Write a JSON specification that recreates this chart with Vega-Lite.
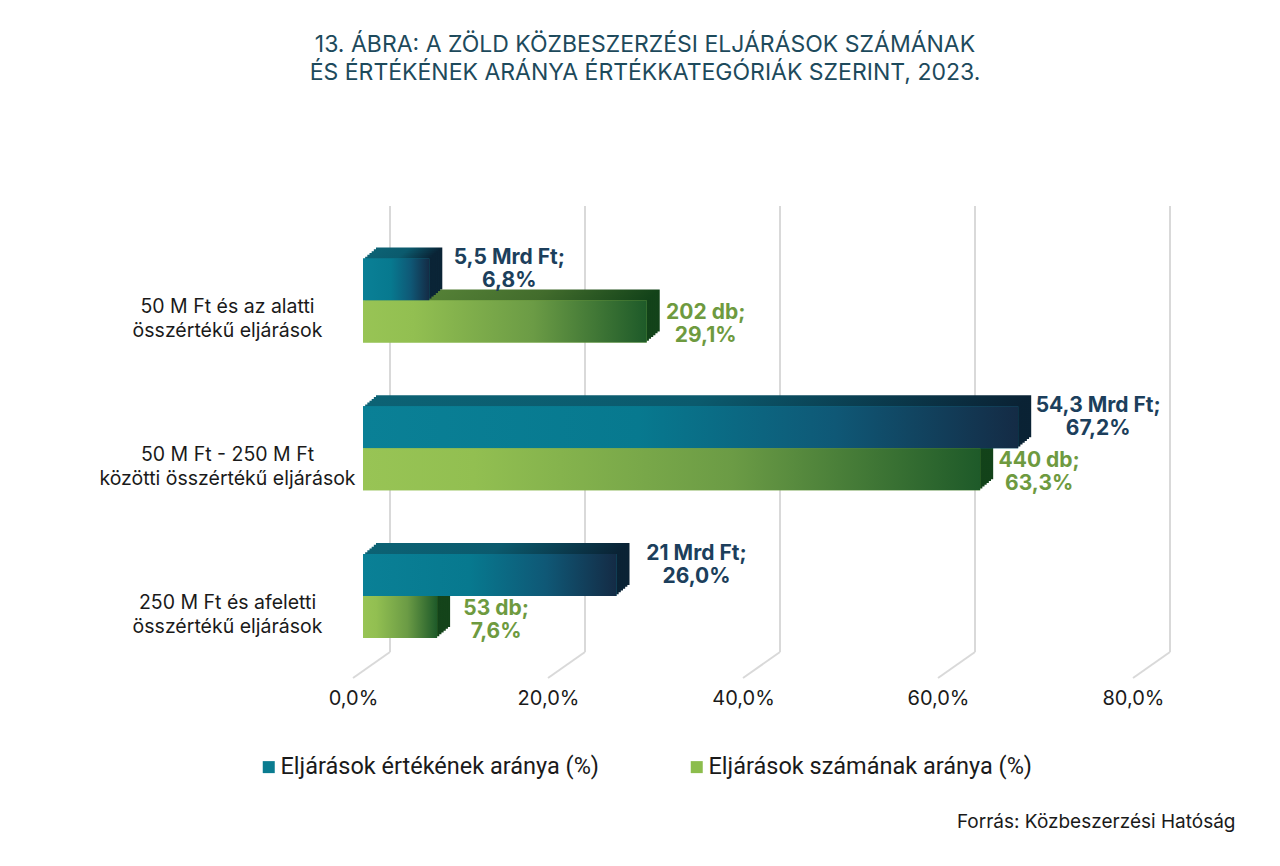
{
  "$schema": "https://vega.github.io/schema/vega-lite/v6.json",
  "width": 780,
  "height": 472,
  "autosize": {"type": "none"},
  "padding": {"left": 363, "top": 206, "right": 137, "bottom": 188},
  "background": "white",
  "title": {
    "text": ["13. ÁBRA: A ZÖLD KÖZBESZERZÉSI ELJÁRÁSOK SZÁMÁNAK", "ÉS ÉRTÉKÉNEK ARÁNYA ÉRTÉKKATEGÓRIÁK SZERINT, 2023."],
    "anchor": "middle",
    "frame": "group",
    "dx": -108,
    "offset": 120,
    "font": "Inter",
    "fontSize": 23,
    "fontWeight": "normal",
    "lineHeight": 28,
    "color": "#1d4a5c"
  },
  "datasets": {
    "savok": [
      {"kategoria": "50 M Ft  és az alatti|összértékű  eljárások", "sorozat": "Eljárások értékének aránya (%)", "arany": 6.8, "cimke": "5,5 Mrd Ft;|6,8%"},
      {"kategoria": "50 M Ft  és az alatti|összértékű  eljárások", "sorozat": "Eljárások számának aránya (%)", "arany": 29.1, "cimke": "202 db;|29,1%"},
      {"kategoria": "50 M Ft - 250 M Ft|közötti összértékű eljárások", "sorozat": "Eljárások értékének aránya (%)", "arany": 67.2, "cimke": "54,3 Mrd Ft;|67,2%"},
      {"kategoria": "50 M Ft - 250 M Ft|közötti összértékű eljárások", "sorozat": "Eljárások számának aránya (%)", "arany": 63.3, "cimke": "440 db;|63,3%"},
      {"kategoria": "250 M Ft  és afeletti|összértékű eljárások", "sorozat": "Eljárások értékének aránya (%)", "arany": 26.0, "cimke": "21 Mrd Ft;|26,0%"},
      {"kategoria": "250 M Ft  és afeletti|összértékű eljárások", "sorozat": "Eljárások számának aránya (%)", "arany": 7.6, "cimke": "53 db;|7,6%"}
    ],
    "racs": [{"t": 0}, {"t": 20}, {"t": 40}, {"t": 60}, {"t": 80}]
  },
  "layer": [
    {
      "data": {"name": "racs"},
      "mark": {"type": "rule", "color": "#d9d9d9", "strokeWidth": 2, "xOffset": 27, "x2Offset": 27, "y2Offset": -26},
      "encoding": {
        "x": {
          "field": "t", "type": "quantitative", "scale": {"domain": [0, 80], "nice": false},
          "axis": {"values": [0, 20, 40, 60, 80], "domain": false, "ticks": false, "tickSize": 0, "grid": false, "labelExpr": "replace(format(datum.value, '.1f'), '.', ',') + '%'", "labelFlush": false, "labelOverlap": false, "labelOffset": -10, "labelPadding": 10, "labelFont": "Inter", "labelFontSize": 20, "labelColor": "#1a1a1a", "title": "Forrás: Közbeszerzési Hatóság", "titleX": 872, "titleY": 149, "titleAlign": "right", "titleBaseline": "alphabetic", "titleFont": "Inter", "titleFontSize": 19, "titleFontWeight": "normal", "titleColor": "#1a1a1a"}
        },
        "y": {"value": 0},
        "y2": {"value": "height"}
      }
    },
    {
      "data": {"name": "racs"},
      "mark": {"type": "rule", "color": "#d9d9d9", "strokeWidth": 2, "xOffset": -10, "x2Offset": 27, "y2Offset": -26},
      "encoding": {
        "x": {
          "field": "t", "type": "quantitative",
          "axis": {"values": [0, 20, 40, 60, 80], "domain": false, "ticks": false, "tickSize": 0, "grid": false, "labelExpr": "replace(format(datum.value, '.1f'), '.', ',') + '%'", "labelFlush": false, "labelOverlap": false, "labelOffset": -10, "labelPadding": 10, "labelFont": "Inter", "labelFontSize": 20, "labelColor": "#1a1a1a", "title": "Forrás: Közbeszerzési Hatóság", "titleX": 872, "titleY": 149, "titleAlign": "right", "titleBaseline": "alphabetic", "titleFont": "Inter", "titleFontSize": 19, "titleFontWeight": "normal", "titleColor": "#1a1a1a"}
        },
        "x2": {"field": "t"},
        "y": {"value": "height"},
        "y2": {"value": "height"}
      }
    },
    {
      "data": {"name": "savok"},
      "resolve": {"scale": {"y": "independent", "yOffset": "independent"}},
      "encoding": {
        "x": {
          "field": "arany", "type": "quantitative", "scale": {"domain": [0, 80], "nice": false},
          "axis": {"values": [0, 20, 40, 60, 80], "domain": false, "ticks": false, "tickSize": 0, "grid": false, "labelExpr": "replace(format(datum.value, '.1f'), '.', ',') + '%'", "labelFlush": false, "labelOverlap": false, "labelOffset": -10, "labelPadding": 10, "labelFont": "Inter", "labelFontSize": 20, "labelColor": "#1a1a1a", "title": "Forrás: Közbeszerzési Hatóság", "titleX": 872, "titleY": 149, "titleAlign": "right", "titleBaseline": "alphabetic", "titleFont": "Inter", "titleFontSize": 19, "titleFontWeight": "normal", "titleColor": "#1a1a1a"}
        },
        "y": {
          "field": "kategoria", "type": "nominal",
          "scale": {"domain": ["50 M Ft  és az alatti|összértékű  eljárások", "50 M Ft - 250 M Ft|közötti összértékű eljárások", "250 M Ft  és afeletti|összértékű eljárások"], "paddingInner": 0.4315, "paddingOuter": 0.313, "align": 0.5676},
          "axis": null
        },
        "yOffset": {
          "field": "sorozat", "type": "nominal",
          "scale": {"domain": ["Eljárások értékének aránya (%)", "Eljárások számának aránya (%)"], "paddingInner": 0, "paddingOuter": 0}
        }
      },
      "layer": [
        {"transform": [{"filter": {"field": "sorozat", "equal": "Eljárások értékének aránya (%)"}}], "mark": {"type": "bar", "xOffset": 13, "x2Offset": 13, "fill": {"gradient": "linear", "x1": 0, "y1": 0, "x2": 1, "y2": 0, "stops": [{"offset": 0, "color": "#0c6274"}, {"offset": 0.5, "color": "#0b5a6d"}, {"offset": 1, "color": "#0a2234"}]}},
         "encoding": {"y": {"field": "kategoria", "type": "nominal", "scale": {"domain": ["50 M Ft  és az alatti|összértékű  eljárások", "50 M Ft - 250 M Ft|közötti összértékű eljárások", "250 M Ft  és afeletti|összértékű eljárások"], "paddingInner": 0.4315, "paddingOuter": 0.313, "align": 0.5676, "range": [-11, 461]}, "axis": null}}},
        {"transform": [{"filter": {"field": "sorozat", "equal": "Eljárások számának aránya (%)"}}], "mark": {"type": "bar", "xOffset": 13, "x2Offset": 13, "fill": {"gradient": "linear", "x1": 0, "y1": 0, "x2": 1, "y2": 0, "stops": [{"offset": 0, "color": "#5f8c3c"}, {"offset": 0.6, "color": "#426c2c"}, {"offset": 1, "color": "#124219"}]}},
         "encoding": {"y": {"field": "kategoria", "type": "nominal", "scale": {"domain": ["50 M Ft  és az alatti|összértékű  eljárások", "50 M Ft - 250 M Ft|közötti összértékű eljárások", "250 M Ft  és afeletti|összértékű eljárások"], "paddingInner": 0.4315, "paddingOuter": 0.313, "align": 0.5676, "range": [-11, 461]}, "axis": null}}},
        {"transform": [{"filter": {"field": "sorozat", "equal": "Eljárások értékének aránya (%)"}}], "mark": {"type": "bar", "xOffset": 10.83, "x2Offset": 10.83, "fill": {"gradient": "linear", "x1": 0, "y1": 0, "x2": 1, "y2": 0, "stops": [{"offset": 0, "color": "#0c6274"}, {"offset": 0.5, "color": "#0b5a6d"}, {"offset": 1, "color": "#0a2234"}]}},
         "encoding": {"y": {"field": "kategoria", "type": "nominal", "scale": {"domain": ["50 M Ft  és az alatti|összértékű  eljárások", "50 M Ft - 250 M Ft|közötti összértékű eljárások", "250 M Ft  és afeletti|összértékű eljárások"], "paddingInner": 0.4315, "paddingOuter": 0.313, "align": 0.5676, "range": [-9.17, 462.83]}, "axis": null}}},
        {"transform": [{"filter": {"field": "sorozat", "equal": "Eljárások számának aránya (%)"}}], "mark": {"type": "bar", "xOffset": 10.83, "x2Offset": 10.83, "fill": {"gradient": "linear", "x1": 0, "y1": 0, "x2": 1, "y2": 0, "stops": [{"offset": 0, "color": "#5f8c3c"}, {"offset": 0.6, "color": "#426c2c"}, {"offset": 1, "color": "#124219"}]}},
         "encoding": {"y": {"field": "kategoria", "type": "nominal", "scale": {"domain": ["50 M Ft  és az alatti|összértékű  eljárások", "50 M Ft - 250 M Ft|közötti összértékű eljárások", "250 M Ft  és afeletti|összértékű eljárások"], "paddingInner": 0.4315, "paddingOuter": 0.313, "align": 0.5676, "range": [-9.17, 462.83]}, "axis": null}}},
        {"transform": [{"filter": {"field": "sorozat", "equal": "Eljárások értékének aránya (%)"}}], "mark": {"type": "bar", "xOffset": 8.67, "x2Offset": 8.67, "fill": {"gradient": "linear", "x1": 0, "y1": 0, "x2": 1, "y2": 0, "stops": [{"offset": 0, "color": "#0c6274"}, {"offset": 0.5, "color": "#0b5a6d"}, {"offset": 1, "color": "#0a2234"}]}},
         "encoding": {"y": {"field": "kategoria", "type": "nominal", "scale": {"domain": ["50 M Ft  és az alatti|összértékű  eljárások", "50 M Ft - 250 M Ft|közötti összértékű eljárások", "250 M Ft  és afeletti|összértékű eljárások"], "paddingInner": 0.4315, "paddingOuter": 0.313, "align": 0.5676, "range": [-7.33, 464.67]}, "axis": null}}},
        {"transform": [{"filter": {"field": "sorozat", "equal": "Eljárások számának aránya (%)"}}], "mark": {"type": "bar", "xOffset": 8.67, "x2Offset": 8.67, "fill": {"gradient": "linear", "x1": 0, "y1": 0, "x2": 1, "y2": 0, "stops": [{"offset": 0, "color": "#5f8c3c"}, {"offset": 0.6, "color": "#426c2c"}, {"offset": 1, "color": "#124219"}]}},
         "encoding": {"y": {"field": "kategoria", "type": "nominal", "scale": {"domain": ["50 M Ft  és az alatti|összértékű  eljárások", "50 M Ft - 250 M Ft|közötti összértékű eljárások", "250 M Ft  és afeletti|összértékű eljárások"], "paddingInner": 0.4315, "paddingOuter": 0.313, "align": 0.5676, "range": [-7.33, 464.67]}, "axis": null}}},
        {"transform": [{"filter": {"field": "sorozat", "equal": "Eljárások értékének aránya (%)"}}], "mark": {"type": "bar", "xOffset": 6.5, "x2Offset": 6.5, "fill": {"gradient": "linear", "x1": 0, "y1": 0, "x2": 1, "y2": 0, "stops": [{"offset": 0, "color": "#0c6274"}, {"offset": 0.5, "color": "#0b5a6d"}, {"offset": 1, "color": "#0a2234"}]}},
         "encoding": {"y": {"field": "kategoria", "type": "nominal", "scale": {"domain": ["50 M Ft  és az alatti|összértékű  eljárások", "50 M Ft - 250 M Ft|közötti összértékű eljárások", "250 M Ft  és afeletti|összértékű eljárások"], "paddingInner": 0.4315, "paddingOuter": 0.313, "align": 0.5676, "range": [-5.5, 466.5]}, "axis": null}}},
        {"transform": [{"filter": {"field": "sorozat", "equal": "Eljárások számának aránya (%)"}}], "mark": {"type": "bar", "xOffset": 6.5, "x2Offset": 6.5, "fill": {"gradient": "linear", "x1": 0, "y1": 0, "x2": 1, "y2": 0, "stops": [{"offset": 0, "color": "#5f8c3c"}, {"offset": 0.6, "color": "#426c2c"}, {"offset": 1, "color": "#124219"}]}},
         "encoding": {"y": {"field": "kategoria", "type": "nominal", "scale": {"domain": ["50 M Ft  és az alatti|összértékű  eljárások", "50 M Ft - 250 M Ft|közötti összértékű eljárások", "250 M Ft  és afeletti|összértékű eljárások"], "paddingInner": 0.4315, "paddingOuter": 0.313, "align": 0.5676, "range": [-5.5, 466.5]}, "axis": null}}},
        {"transform": [{"filter": {"field": "sorozat", "equal": "Eljárások értékének aránya (%)"}}], "mark": {"type": "bar", "xOffset": 4.33, "x2Offset": 4.33, "fill": {"gradient": "linear", "x1": 0, "y1": 0, "x2": 1, "y2": 0, "stops": [{"offset": 0, "color": "#0c6274"}, {"offset": 0.5, "color": "#0b5a6d"}, {"offset": 1, "color": "#0a2234"}]}},
         "encoding": {"y": {"field": "kategoria", "type": "nominal", "scale": {"domain": ["50 M Ft  és az alatti|összértékű  eljárások", "50 M Ft - 250 M Ft|közötti összértékű eljárások", "250 M Ft  és afeletti|összértékű eljárások"], "paddingInner": 0.4315, "paddingOuter": 0.313, "align": 0.5676, "range": [-3.67, 468.33]}, "axis": null}}},
        {"transform": [{"filter": {"field": "sorozat", "equal": "Eljárások számának aránya (%)"}}], "mark": {"type": "bar", "xOffset": 4.33, "x2Offset": 4.33, "fill": {"gradient": "linear", "x1": 0, "y1": 0, "x2": 1, "y2": 0, "stops": [{"offset": 0, "color": "#5f8c3c"}, {"offset": 0.6, "color": "#426c2c"}, {"offset": 1, "color": "#124219"}]}},
         "encoding": {"y": {"field": "kategoria", "type": "nominal", "scale": {"domain": ["50 M Ft  és az alatti|összértékű  eljárások", "50 M Ft - 250 M Ft|közötti összértékű eljárások", "250 M Ft  és afeletti|összértékű eljárások"], "paddingInner": 0.4315, "paddingOuter": 0.313, "align": 0.5676, "range": [-3.67, 468.33]}, "axis": null}}},
        {"transform": [{"filter": {"field": "sorozat", "equal": "Eljárások értékének aránya (%)"}}], "mark": {"type": "bar", "xOffset": 2.17, "x2Offset": 2.17, "fill": {"gradient": "linear", "x1": 0, "y1": 0, "x2": 1, "y2": 0, "stops": [{"offset": 0, "color": "#0c6274"}, {"offset": 0.5, "color": "#0b5a6d"}, {"offset": 1, "color": "#0a2234"}]}},
         "encoding": {"y": {"field": "kategoria", "type": "nominal", "scale": {"domain": ["50 M Ft  és az alatti|összértékű  eljárások", "50 M Ft - 250 M Ft|közötti összértékű eljárások", "250 M Ft  és afeletti|összértékű eljárások"], "paddingInner": 0.4315, "paddingOuter": 0.313, "align": 0.5676, "range": [-1.83, 470.17]}, "axis": null}}},
        {"transform": [{"filter": {"field": "sorozat", "equal": "Eljárások számának aránya (%)"}}], "mark": {"type": "bar", "xOffset": 2.17, "x2Offset": 2.17, "fill": {"gradient": "linear", "x1": 0, "y1": 0, "x2": 1, "y2": 0, "stops": [{"offset": 0, "color": "#5f8c3c"}, {"offset": 0.6, "color": "#426c2c"}, {"offset": 1, "color": "#124219"}]}},
         "encoding": {"y": {"field": "kategoria", "type": "nominal", "scale": {"domain": ["50 M Ft  és az alatti|összértékű  eljárások", "50 M Ft - 250 M Ft|közötti összértékű eljárások", "250 M Ft  és afeletti|összértékű eljárások"], "paddingInner": 0.4315, "paddingOuter": 0.313, "align": 0.5676, "range": [-1.83, 470.17]}, "axis": null}}},
        {
          "mark": {"type": "bar"},
          "encoding": {
            "color": {
              "field": "sorozat",
              "type": "nominal",
              "scale": {"domain": ["Eljárások értékének aránya (%)", "Eljárások számának aránya (%)"], "range": ["#0a7c90", "#8cbd4c"]},
              "legend": {
                "orient": "none",
                "legendX": -106,
                "legendY": 549,
                "direction": "horizontal",
                "title": null,
                "symbolType": "square",
                "symbolSize": 144,
                "symbolStrokeWidth": 0,
                "labelFont": "Roboto",
                "labelFontSize": 23.5,
                "labelColor": "#1a1a1a",
                "labelOffset": 0,
                "labelLimit": 400,
                "columnPadding": 85,
                "padding": 0
              }
            }
          }
        },
        {"transform": [{"filter": {"field": "sorozat", "equal": "Eljárások értékének aránya (%)"}}], "mark": {"type": "bar", "fill": {"gradient": "linear", "x1": 0, "y1": 0, "x2": 1, "y2": 0, "stops": [{"offset": 0, "color": "#0a8096"}, {"offset": 0.42, "color": "#07798f"}, {"offset": 0.72, "color": "#0f5876"}, {"offset": 1, "color": "#142b45"}]}},
         "encoding": {"y": {"field": "kategoria", "type": "nominal",
           "scale": {"domain": ["50 M Ft  és az alatti|összértékű  eljárások", "50 M Ft - 250 M Ft|közötti összértékű eljárások", "250 M Ft  és afeletti|összértékű eljárások"], "paddingInner": 0.4315, "paddingOuter": 0.313, "align": 0.5676},
           "axis": {"title": null, "domain": false, "ticks": false, "tickSize": 0, "grid": false, "labelExpr": "split(datum.label, '|')", "labelAlign": "center", "labelBaseline": "middle", "labelPadding": 136, "labelOffset": 7, "labelLineHeight": 24, "labelFont": "Inter", "labelFontSize": 19.5, "labelColor": "#1a1a1a", "labelLimit": 400}}}},
        {"transform": [{"filter": {"field": "sorozat", "equal": "Eljárások számának aránya (%)"}}], "mark": {"type": "bar", "fill": {"gradient": "linear", "x1": 0, "y1": 0, "x2": 1, "y2": 0, "stops": [{"offset": 0, "color": "#98c455"}, {"offset": 0.18, "color": "#92bf51"}, {"offset": 0.6, "color": "#6b9b45"}, {"offset": 1, "color": "#1e5a29"}]}}},
        {
          "transform": [{"filter": {"field": "sorozat", "equal": "Eljárások értékének aránya (%)"}}],
          "mark": {"type": "text", "align": "center", "baseline": "middle", "dx": 80, "dy": 0, "font": "Inter", "fontSize": 21, "fontWeight": "bold", "lineBreak": "|", "lineHeight": 23, "color": "#1c3f5c"},
          "encoding": {"text": {"field": "cimke", "type": "nominal"}}
        },
        {
          "transform": [{"filter": {"field": "sorozat", "equal": "Eljárások számának aránya (%)"}}],
          "mark": {"type": "text", "align": "center", "baseline": "middle", "dx": 59, "dy": -29, "font": "Inter", "fontSize": 21, "fontWeight": "bold", "lineBreak": "|", "lineHeight": 23, "color": "#6e9a3f"},
          "encoding": {"text": {"field": "cimke", "type": "nominal"}}
        }
      ]
    }
  ],
  "config": {
    "view": {"stroke": null},
    "font": "Inter"
  }
}
